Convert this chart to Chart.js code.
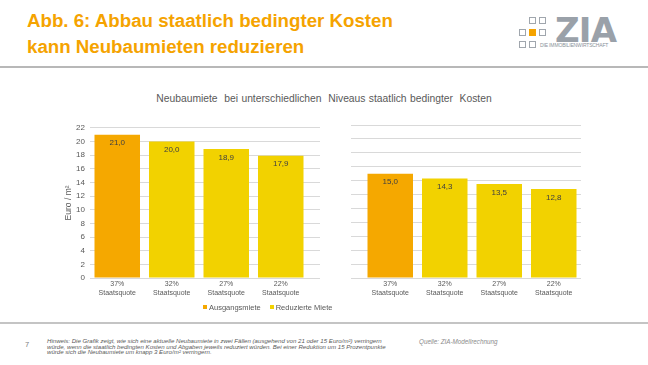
<!DOCTYPE html>
<html>
<head>
<meta charset="utf-8">
<script src="https://cdn.jsdelivr.net/npm/chart.js@4"></script>
<style>
  body { margin: 0; width: 648px; height: 365px; background: #fff; position: relative; overflow: hidden; font-family: "Liberation Sans", Arial, sans-serif; }
  .abs { position: absolute; }
  #title { left: 27px; top: 8px; color: #F5A300; font-weight: bold; font-size: 18.7px; line-height: 25.5px; white-space: nowrap; }
  .rule { left: 0; width: 648px; height: 2px; background: #b8b8b8; }
  #chartTitle { left: 0; width: 648px; top: 93px; text-align: center; color: #595959; font-size: 10.3px; word-spacing: 0.5px; white-space: pre; }
  #legend { top: 303px; left: 203px; font-size: 7.5px; color: #595959; white-space: nowrap; }
  #legend span.item { margin-right: 9px; }
  #legend span.box { display: inline-block; width: 4px; height: 4px; margin-right: 2px; vertical-align: 1px; }
  .sq { width: 5px; height: 5px; border: 1.5px solid #a0a6ad; }
  #zia { left: 555px; top: 13px; font-family: "DejaVu Sans", sans-serif; font-size: 34px; line-height: 34px; font-weight: bold; color: #9aa1a9; letter-spacing: -0.8px; }
  #ziaSub { left: 540px; top: 42px; font-size: 5px; line-height: 6px; color: #8a9199; letter-spacing: -0.15px; }
  #note { left: 47px; top: 338px; font-style: italic; font-size: 6.1px; line-height: 5.6px; color: #595959; white-space: nowrap; }
  #page { left: 25px; top: 340px; font-size: 7.5px; color: #7f7f7f; }
  #source { left: 419px; top: 338px; font-style: italic; font-size: 6.3px; color: #8c8c8c; white-space: nowrap; }
</style>
</head>
<body>
<div id="title" class="abs">Abb. 6: Abbau staatlich bedingter Kosten<br>kann Neubaumieten reduzieren</div>

<div class="abs sq" style="left:529px; top:17px"></div>
<div class="abs sq" style="left:539px; top:17px"></div>
<div class="abs sq" style="left:519px; top:29px"></div>
<div class="abs sq" style="left:529px; top:29px; background:#F5A300; border-color:#F5A300"></div>
<div class="abs sq" style="left:539px; top:29px"></div>
<div class="abs sq" style="left:519px; top:41px"></div>
<div class="abs sq" style="left:529px; top:41px"></div>
<div id="zia" class="abs">ZIA</div>
<div id="ziaSub" class="abs">DIE IMMOBILIENWIRTSCHAFT</div>

<div class="abs rule" style="top:66px"></div>

<div id="chartTitle" class="abs">Neubaumiete  bei unterschiedlichen  Niveaus staatlich bedingter  Kosten</div>

<canvas id="left" class="abs" style="left:64px; top:118px"></canvas>
<canvas id="right" class="abs" style="left:351px; top:118px"></canvas>

<div id="legend" class="abs"></div>

<div class="abs rule" style="top:322px; height:1.5px; background:#c4c4c4"></div>

<div id="page" class="abs">7</div>
<div id="note" class="abs">Hinweis: Die Grafik zeigt, wie sich eine aktuelle Neubaumiete in zwei Fällen (ausgehend von 21 oder 15 Euro/m²) verringern<br>würde, wenn die staatlich bedingten Kosten und Abgaben jeweils reduziert würden. Bei einer Reduktion um 15 Prozentpunkte<br>würde sich die Neubaumiete um knapp 3 Euro/m² verringern.</div>
<div id="source" class="abs">Quelle: ZIA-Modellrechnung</div>

<script>
// categories and values
const categories = [["37%", "Staatsquote"], ["32%", "Staatsquote"], ["27%", "Staatsquote"], ["22%", "Staatsquote"]];
const seriesNames = ["Ausgangsmiete", "Reduzierte Miete"];
const seriesColors = ["#F5A800", "#F2D200"];
// left panel (starting from 21 Euro/m²)
const leftAusgang = [21.0, null, null, null];
const leftReduziert = [null, 20.0, 18.9, 17.9];
// right panel (starting from 15 Euro/m²)
const rightAusgang = [15.0, null, null, null];
const rightReduziert = [null, 14.3, 13.5, 12.8];
const yTicks = { min: 0, max: 22, step: 2 };

const textColor = "#595959";
const gridColor = "#d9d9d9";

// draws the value inside the top of each bar
const valueLabels = {
  id: "valueLabels",
  afterDatasetsDraw(chart) {
    const ctx = chart.ctx;
    ctx.save();
    ctx.font = "8px 'Liberation Sans'";
    ctx.fillStyle = "#404040";
    ctx.textAlign = "center";
    ctx.textBaseline = "middle";
    chart.data.datasets.forEach((ds, i) => {
      chart.getDatasetMeta(i).data.forEach((bar, j) => {
        const v = ds.data[j];
        if (v == null) return;
        ctx.fillText(v.toFixed(1).replace(".", ","), bar.x, bar.y + 8.5);
      });
    });
    ctx.restore();
  }
};

// gridlines run 12px past the plot on one side (like the reference)
function stubAxis(position) {
  return {
    position: position,
    min: yTicks.min,
    max: yTicks.max,
    grid: { color: gridColor, drawOnChartArea: false, drawTicks: true, tickLength: 12 },
    border: { display: false },
    ticks: { display: false, stepSize: yTicks.step },
    afterFit: (axis) => { axis.width = 12; },
  };
}

function makeChart(id, ausgang, reduziert, isLeft) {
  const width = isLeft ? 256 : 230;
  const canvas = document.getElementById(id);
  canvas.width = width;
  canvas.height = 186;
  canvas.style.width = width + "px";
  canvas.style.height = "186px";

  const scales = {
    x: {
      stacked: true,
      grid: { display: false, drawTicks: false },
      border: { color: gridColor },
      ticks: { color: textColor, font: { size: 7, family: "Liberation Sans" }, padding: 2, maxRotation: 0 },
      afterFit: (axis) => { axis.height = 26; },
    },
  };
  if (isLeft) {
    scales.y = {
      stacked: true,
      min: yTicks.min,
      max: yTicks.max,
      grid: { color: gridColor, drawTicks: false },
      border: { display: false },
      ticks: { stepSize: yTicks.step, color: textColor, font: { size: 8, family: "Liberation Sans" }, padding: 5 },
      title: { display: true, text: "Euro / m²", color: textColor, font: { size: 8.5, family: "Liberation Sans" }, padding: 0 },
      afterFit: (axis) => { axis.width = 26; },
    };
    scales.y2 = stubAxis("right");
  } else {
    scales.y = Object.assign(stubAxis("left"), { stacked: true });
    scales.y.grid = { color: gridColor, drawTicks: true, tickLength: 12 };
  }

  return new Chart(canvas, {
    type: "bar",
    data: {
      labels: categories,
      datasets: [
        { label: seriesNames[0], data: ausgang, backgroundColor: seriesColors[0] },
        { label: seriesNames[1], data: reduziert, backgroundColor: seriesColors[1] },
      ],
    },
    options: {
      responsive: false,
      animation: false,
      layout: { padding: { top: 7 } },
      datasets: { bar: { barPercentage: 0.835, categoryPercentage: 1 } },
      plugins: { legend: { display: false }, tooltip: { enabled: false } },
      scales: scales,
    },
    plugins: [valueLabels],
  });
}

makeChart("left", leftAusgang, leftReduziert, true);
makeChart("right", rightAusgang, rightReduziert, false);

// legend built from the series names and colours
const legend = document.getElementById("legend");
seriesNames.forEach((name, i) => {
  const item = document.createElement("span");
  item.className = "item";
  item.innerHTML = '<span class="box" style="background:' + seriesColors[i] + '"></span>' + name;
  legend.appendChild(item);
});
</script>
</body>
</html>
